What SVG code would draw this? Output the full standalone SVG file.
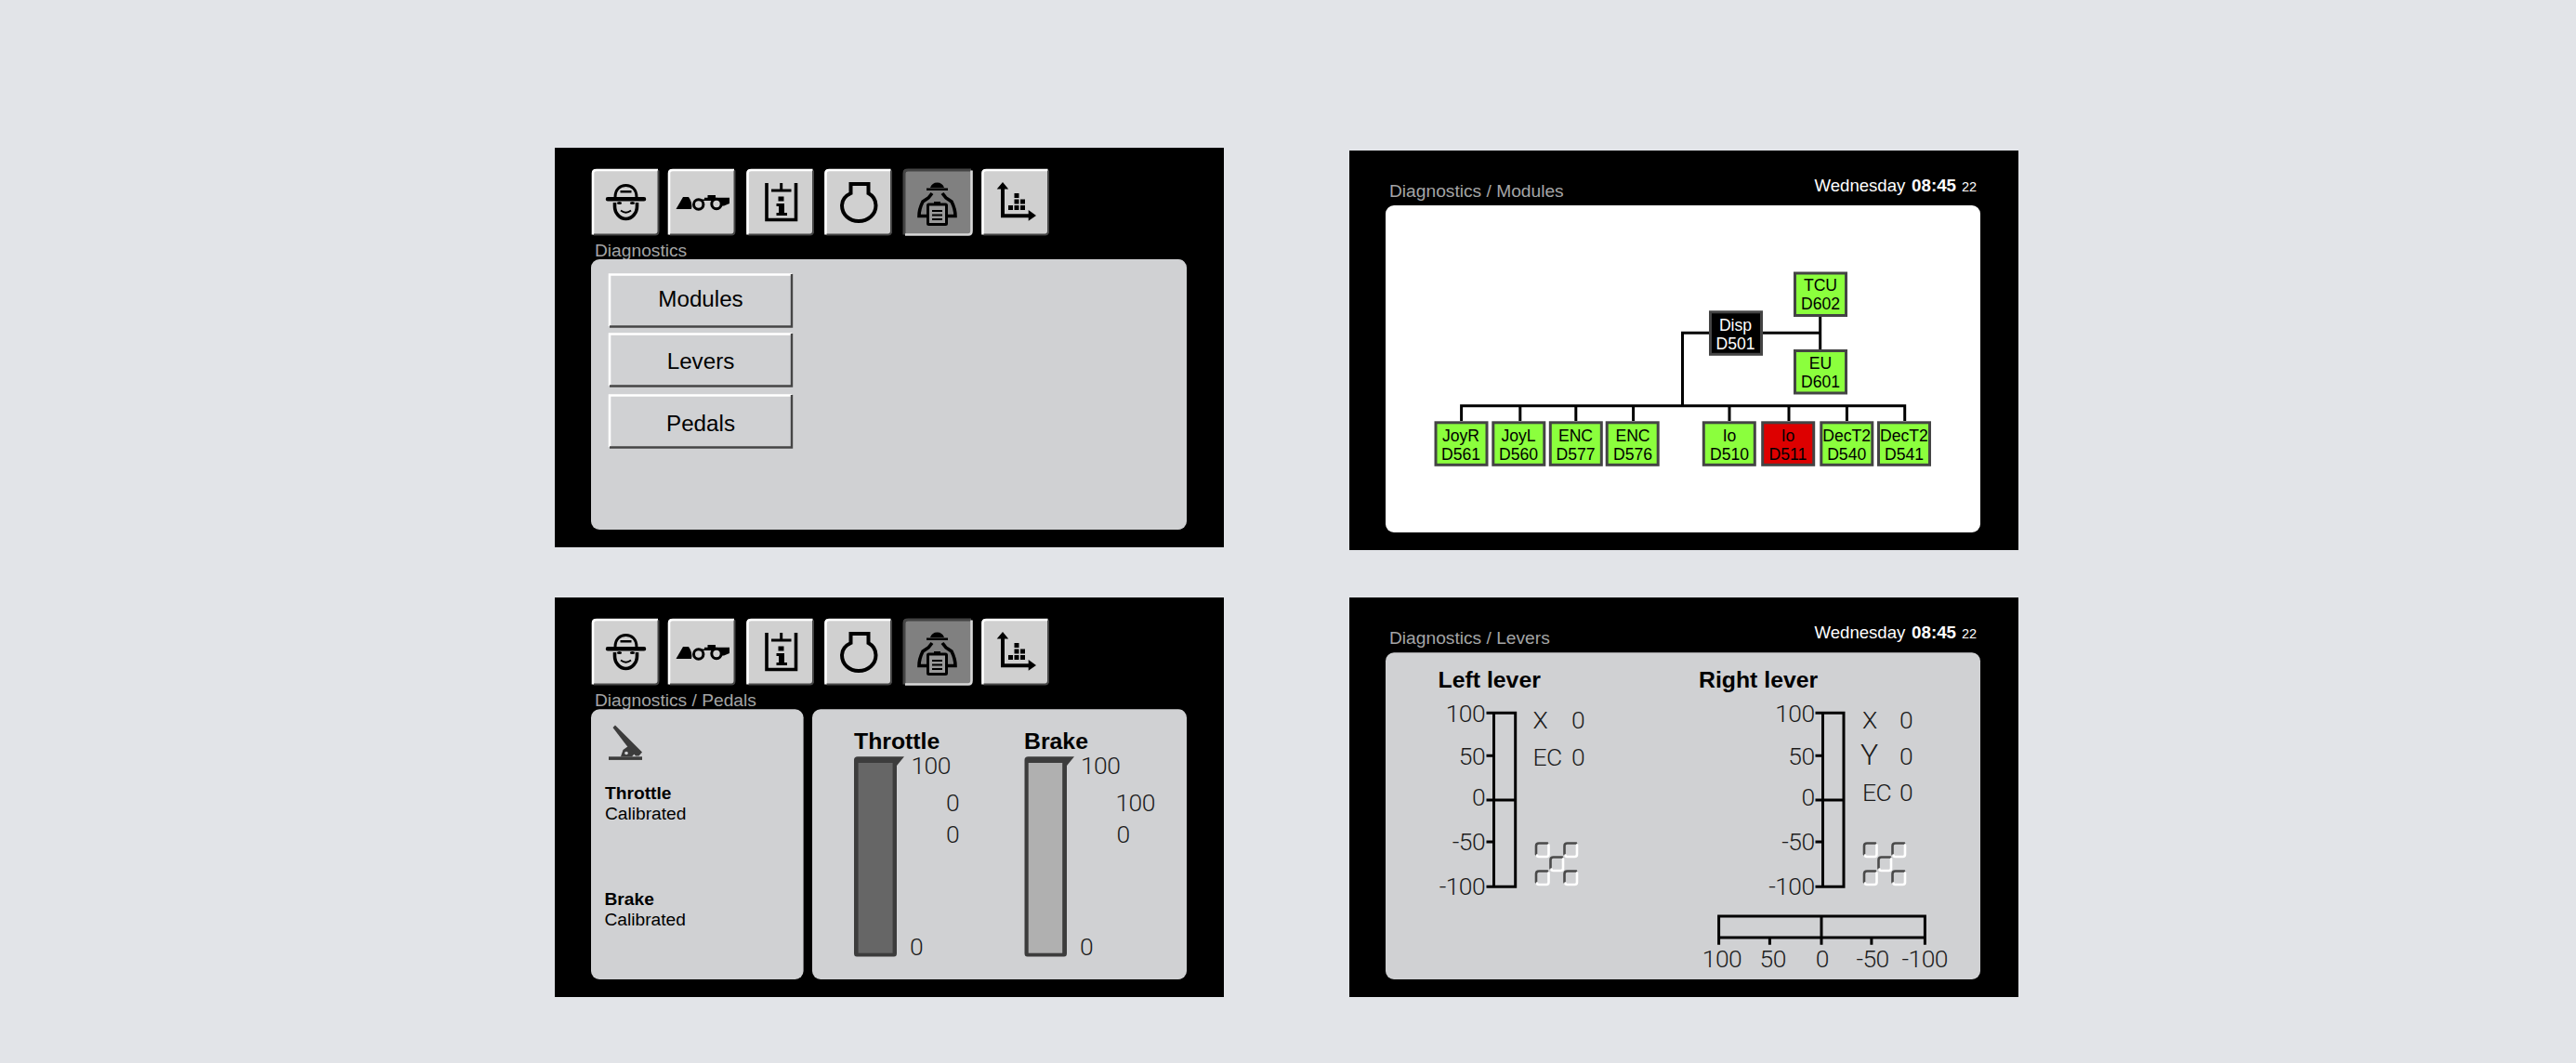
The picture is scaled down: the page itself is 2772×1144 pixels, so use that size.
<svg xmlns="http://www.w3.org/2000/svg" xmlns:xlink="http://www.w3.org/1999/xlink" width="2772" height="1144" viewBox="0 0 2772 1144">
<style>
text{font-family:"Liberation Sans",Arial,sans-serif;fill:#000}
.screen{fill:#000}
.pane{fill:#d0d1d3}
.title{font-size:19.2px;fill:#a4a5a6}
.clock{font-size:18.6px;fill:#fff}
.clock .b{font-weight:700;font-size:18.8px;fill:#fff}
.clock .s{font-size:14.5px;fill:#fff}
.btn{font-size:24.2px;text-anchor:middle}
.h{font-size:24.8px;font-weight:700}
.sb{font-size:19.2px;font-weight:700}
.sr{font-size:19.2px}
.num{font-family:"Roboto","Open Sans","Liberation Sans",sans-serif;font-weight:300;font-size:26.5px;fill:#1c1c1c;letter-spacing:-.6px}
.end{text-anchor:end}
.mid{text-anchor:middle}
.mod{fill:#8bff3d;stroke:#444;stroke-width:3}
.modt{font-size:17.6px;text-anchor:middle}
.wire{fill:none;stroke:#000;stroke-width:3}
.ink{fill:none;stroke:#000;stroke-width:3.6}
.scale{fill:none;stroke:#000;stroke-width:3}
.fd{fill:none;stroke:#4a4a4a;stroke-width:2.6;stroke-linecap:round}
.fl{fill:none;stroke:#fff;stroke-width:2.6;stroke-linecap:round}
</style>
<defs>
<g id="face"><rect x="-36" y="-35.500" width="72" height="71" rx="4" fill="#d0d0d0"/><path d="M-35 35V-31Q-35-34.500-31-34.500H35" fill="none" stroke="#fff" stroke-width="2.600"/><path d="M-34 35H32Q35.500 35 35.500 31V-34" fill="none" stroke="#454545" stroke-width="2"/></g>
<g id="faceOn"><rect x="-37" y="-35.500" width="74" height="71" rx="4" fill="#808080"/><path d="M-36 35V-31Q-36-34.500-32-34.500H36" fill="none" stroke="#444" stroke-width="3"/><path d="M-35 35H33Q36.500 35 36.500 31V-34" fill="none" stroke="#d8d8d8" stroke-width="2.600"/></g>
<g id="flags">
<path class="fd" d="M0 13V4Q0 1 3 1H12M30.500 13V4Q30.500 1 33.500 1H43M15.500 28V19Q15.500 16 18.500 16H28M0 43V34Q0 31 3 31H12M30.500 43V34Q30.500 31 33.500 31H43"/>
<path class="fl" d="M1 14Q1 15.500 3 15.500H11Q13.500 15.500 13.500 13V3M31.500 14Q31.500 15.500 33.500 15.500H41.500Q44 15.500 44 13V3M16.500 29Q16.500 30.500 18.500 30.500H26.500Q29 30.500 29 28V18M1 44Q1 45.500 3 45.500H11Q13.500 45.500 13.500 43V33M31.500 44Q31.500 45.500 33.500 45.500H41.500Q44 45.500 44 43V33"/>
</g>
<g id="toolbar">
<use xlink:href="#face" href="#face" x="673" y="217.500"/>
<use xlink:href="#face" href="#face" x="755" y="217.500"/>
<use xlink:href="#face" href="#face" x="839.500" y="217.500"/>
<use xlink:href="#face" href="#face" x="923.500" y="217.500"/>
<use xlink:href="#faceOn" href="#faceOn" x="1009" y="217.500"/>
<use xlink:href="#face" href="#face" x="1092.500" y="217.500"/>
<path d="M662 212C662 204 667 199.500 673.500 199.500S685 204 685 212" fill="none" stroke="#000" stroke-width="3"/>
<path d="M667.500 205H679.500V207.500H667.500ZM654 212H693A2.200 2.200 0 0 1 693 216.500H654A2.200 2.200 0 0 1 654 212Z"/>
<path class="ink" d="M661.500 218V222A12 13.500 0 0 0 685.500 222V218"/>
<ellipse cx="666.500" cy="218.500" rx="2.600" ry="1.600"/><ellipse cx="680.500" cy="218.500" rx="2.600" ry="1.600"/>
<path d="M668 226.500Q673.500 231 679 226.500" fill="none" stroke="#000" stroke-width="1.800"/>
<path d="M727.500 225L735 212H741Q745.500 218 744 225Z"/>
<path d="M761.500 210H770V212.800H785V219L779 221.500H776V216H757V219H755V214.500H758V212.800H761.500Z"/>
<circle cx="751.700" cy="220" r="5.200" fill="#d0d0d0" stroke="#000" stroke-width="3"/>
<circle cx="771" cy="219.500" r="5.200" fill="#d0d0d0" stroke="#000" stroke-width="3"/>
<path class="ink" d="M825 197V236.500H856.500V197"/>
<path d="M840.700 197V205M830 205H851.500" fill="none" stroke="#000" stroke-width="3"/>
<path d="M837.500 211.500H843.500V216.500H837.500ZM835.500 219H844V229H847V232H835.500V229H838V222H835.500Z"/>
<path d="M915.500 198H934.500V208C940 211 942.500 216 942.500 221C942.500 231 934 238 924 238S906 231 906 221C906 216 909 211 915.500 208Z" fill="none" stroke="#000" stroke-width="4"/>
<path d="M1001 202A8 8.500 0 0 1 1016 202ZM997 202.500H1020V205H997Z"/>
<path class="ink" d="M1003 208L999 213L993 217Q989 225 989 232.500H998M1014 208L1018 213L1024 217Q1028 225 1028 232.500H1019"/>
<rect x="998.500" y="220" width="20" height="21.500" rx="1" fill="#9a9a9a" stroke="#000" stroke-width="3"/>
<rect x="1005" y="217" width="7" height="4" fill="#000"/>
<path d="M1003 227H1014M1003 231.500H1014M1003 236H1014" stroke="#000" stroke-width="1.800"/>
<path d="M1079 200V232.300H1108" fill="none" stroke="#000" stroke-width="4"/>
<path d="M1072.700 203.500L1079 196L1085.200 203.500ZM1106.700 226L1115 232L1106.700 237.700Z"/>
<path d="M1085 221H1090V226H1085ZM1091.500 221H1096.500V226H1091.500ZM1098 221H1103V226H1098ZM1091.500 214.500H1096.500V219.500H1091.500ZM1098 214.500H1103V219.500H1098ZM1091.500 208H1096.500V213H1091.500Z"/>
</g>
<g id="btnFace"><rect x="0" y="0" width="198" height="58" rx="2" fill="#d0d1d3"/><path d="M1 57V1.500H197" fill="none" stroke="#fff" stroke-width="2.600"/><path d="M1 57.500H197V1" fill="none" stroke="#454545" stroke-width="2.400"/></g>
</defs>
<rect width="2772" height="1144" fill="#e2e4e8"/>

<g id="panel-diagnostics">
<rect class="screen" x="597" y="159" width="720" height="430"/>
<use xlink:href="#toolbar" href="#toolbar"/>
<text class="title" x="640" y="276">Diagnostics</text>
<rect class="pane" x="636" y="279" width="641" height="291" rx="9"/>
<g id="btn-modules"><use xlink:href="#btnFace" href="#btnFace" x="655" y="294"/><text class="btn" x="754" y="330">Modules</text></g>
<g id="btn-levers"><use xlink:href="#btnFace" href="#btnFace" x="655" y="358"/><text class="btn" x="754" y="396.500">Levers</text></g>
<g id="btn-pedals"><use xlink:href="#btnFace" href="#btnFace" x="655" y="424"/><text class="btn" x="754" y="463.500">Pedals</text></g>
</g>

<g id="panel-modules">
<rect class="screen" x="1452" y="162" width="720" height="430"/>
<text class="title" x="1495" y="212">Diagnostics / Modules</text>
<text class="clock" x="1952.500" y="206">Wednesday</text><text class="clock" y="206"><tspan class="b" x="2057">08:45</tspan><tspan class="s" x="2111">22</tspan></text>
<rect x="1491" y="221" width="640" height="352" rx="9" fill="#fff"/>
<g id="connectors">
<path class="wire" d="M1839 358.300H1810.500V436.700M1897 358.300H1958.700M1958.700 340V376M1572.600 453V436.700H2049.700V453M1635.800 436.700V453M1695.800 436.700V453M1757.600 436.700V453M1861 436.700V453M1925 436.700V453M1987.400 436.700V453"/>
</g>
<g id="node-tcu"><rect class="mod" x="1931.500" y="294" width="55" height="45.500"/><text class="modt" x="1959" y="313.300">TCU</text><text class="modt" x="1959" y="333.300">D602</text></g>
<g id="node-eu"><rect class="mod" x="1931.500" y="377.500" width="55" height="45.500"/><text class="modt" x="1959" y="396.700">EU</text><text class="modt" x="1959" y="416.700">D601</text></g>
<g id="node-disp"><rect class="mod" style="fill:#000" x="1840.500" y="335.800" width="55" height="45.500"/><text class="modt" style="fill:#fff" x="1867.500" y="355.700">Disp</text><text class="modt" style="fill:#fff" x="1867.500" y="375.700">D501</text></g>
<g id="node-joyr"><rect class="mod" x="1545" y="454.800" width="55" height="45.500"/><text class="modt" x="1572" y="475">JoyR</text><text class="modt" x="1572" y="494.500">D561</text></g>
<g id="node-joyl"><rect class="mod" x="1606.800" y="454.800" width="55" height="45.500"/><text class="modt" x="1634" y="475">JoyL</text><text class="modt" x="1634" y="494.500">D560</text></g>
<g id="node-enc577"><rect class="mod" x="1668.300" y="454.800" width="55" height="45.500"/><text class="modt" x="1695.500" y="475">ENC</text><text class="modt" x="1695.500" y="494.500">D577</text></g>
<g id="node-enc576"><rect class="mod" x="1729.200" y="454.800" width="55" height="45.500"/><text class="modt" x="1757" y="475">ENC</text><text class="modt" x="1757" y="494.500">D576</text></g>
<g id="node-io510"><rect class="mod" x="1833.300" y="454.800" width="55" height="45.500"/><text class="modt" x="1861" y="475">Io</text><text class="modt" x="1861" y="494.500">D510</text></g>
<g id="node-io511"><rect class="mod" style="fill:#dd0000" x="1896.700" y="454.800" width="55" height="45.500"/><text class="modt" x="1924" y="475">Io</text><text class="modt" x="1924" y="494.500">D511</text></g>
<g id="node-dect540"><rect class="mod" x="1959.800" y="454.800" width="55" height="45.500"/><text class="modt" x="1987.200" y="475">DecT2</text><text class="modt" x="1987.200" y="494.500">D540</text></g>
<g id="node-dect541"><rect class="mod" x="2021.500" y="454.800" width="55" height="45.500"/><text class="modt" x="2049" y="475">DecT2</text><text class="modt" x="2049" y="494.500">D541</text></g>
</g>

<g id="panel-pedals">
<rect class="screen" x="597" y="643" width="720" height="430"/>
<use xlink:href="#toolbar" href="#toolbar" y="484"/>
<text class="title" x="640" y="760">Diagnostics / Pedals</text>
<rect class="pane" x="636" y="763.300" width="228.600" height="290.700" rx="9"/>
<rect class="pane" x="874" y="763.300" width="403" height="290.700" rx="9"/>
<g id="pedal-icon" fill="#3c3c3c">
<rect x="655" y="814.300" width="36" height="3.600"/>
<path d="M659.500 783L662 780.500L691 809.500L687.500 813.500H684L674 802Z"/>
<path d="M668 814.300L670.500 807L676 803L683 811L680 814.300Z"/>
<circle cx="674" cy="810.500" r="1.800" fill="#d0d1d3"/>
</g>
<text class="sb" x="651" y="860">Throttle</text><text class="sr" x="651" y="881.700">Calibrated</text>
<text class="sb" x="650.500" y="974">Brake</text><text class="sr" x="650.500" y="996">Calibrated</text>
<text class="h" x="919" y="805.700">Throttle</text><text class="h" x="1102" y="805.700">Brake</text>
<g id="gauge-throttle">
<path d="M919 1026V818Q919 814.300 923 814.300H973L965 824V1026Q965 1029.500 962 1029.500H922Q919 1029.500 919 1026Z" fill="#3c3c3c"/>
<rect x="923.600" y="821" width="37" height="204.700" fill="#666"/>
<text class="num" x="980.500" y="832.700">100</text><text class="num" x="1018" y="873.300">0</text><text class="num" x="1018" y="906.700">0</text><text class="num" x="979" y="1028.300">0</text>
</g>
<g id="gauge-brake">
<path d="M1102.500 1026V818Q1102.500 814.300 1106.500 814.300H1156L1148 824V1026Q1148 1029.500 1145 1029.500H1105.500Q1102.500 1029.500 1102.500 1026Z" fill="#3c3c3c"/>
<rect x="1106.700" y="821" width="36.500" height="204.700" fill="#b0b0b0"/>
<text class="num" x="1163" y="832.700">100</text><text class="num" x="1200.500" y="873.300">100</text><text class="num" x="1201.500" y="906.700">0</text><text class="num" x="1162" y="1028.300">0</text>
</g>
</g>

<g id="panel-levers">
<rect class="screen" x="1452" y="643" width="720" height="430"/>
<text class="title" x="1495" y="693.300">Diagnostics / Levers</text>
<text class="clock" x="1952.500" y="686.700">Wednesday</text><text class="clock" y="686.700"><tspan class="b" x="2057">08:45</tspan><tspan class="s" x="2111">22</tspan></text>
<rect class="pane" x="1491" y="702.300" width="640" height="351.700" rx="9"/>
<text class="h" x="1547.600" y="740">Left lever</text>
<text class="h" x="1828" y="740">Right lever</text>
<g id="lever-left">
<path class="scale" d="M1599.500 767.300H1630.700V954.300H1599.500M1607.500 767.300V954.300M1599.500 813.300H1607.500M1599.500 861H1630.700M1599.500 906H1607.500"/>
<text class="num end" x="1598" y="776.700">100</text><text class="num end" x="1598" y="822.700">50</text><text class="num end" x="1598" y="866.700">0</text><text class="num end" x="1598" y="915">-50</text><text class="num end" x="1598" y="962.700">-100</text>
<text class="num" x="1649.500" y="784">X</text><text class="num" x="1691" y="784">0</text>
<text class="num" x="1649.500" y="824">EC</text><text class="num" x="1691" y="824">0</text>
<use xlink:href="#flags" href="#flags" x="1653" y="906.500"/>
</g>
<g id="lever-right">
<path class="scale" d="M1953.500 767.300H1984V954.300H1953.500M1961.500 767.300V954.300M1953.500 813.300H1961.500M1953.500 861H1984M1953.500 906H1961.500"/>
<text class="num end" x="1952.500" y="776.700">100</text><text class="num end" x="1952.500" y="822.700">50</text><text class="num end" x="1952.500" y="866.700">0</text><text class="num end" x="1952.500" y="915">-50</text><text class="num end" x="1952.500" y="962.700">-100</text>
<text class="num" x="2004" y="784">X</text><text class="num" x="2044" y="784">0</text>
<text class="num" style="font-size:32px" x="2002" y="822.700">Y</text><text class="num" x="2044" y="822.700">0</text>
<text class="num" x="2004" y="861.700">EC</text><text class="num" x="2044" y="861.700">0</text>
<use xlink:href="#flags" href="#flags" x="2006" y="906.500"/>
</g>
<g id="lever-horizontal">
<path class="scale" d="M1849.600 1016.700V986H2071.400V1016.700M1849.600 1009H2071.400M1960 986V1016.700M1904.400 1009V1016.700M2013.900 1009V1016.700"/>
<text class="num mid" x="1853" y="1041">100</text><text class="num mid" x="1907.700" y="1041">50</text><text class="num mid" x="1960.800" y="1041">0</text><text class="num mid" x="2015" y="1041">-50</text><text class="num mid" x="2071.200" y="1041">-100</text>
</g>
</g>
</svg>
